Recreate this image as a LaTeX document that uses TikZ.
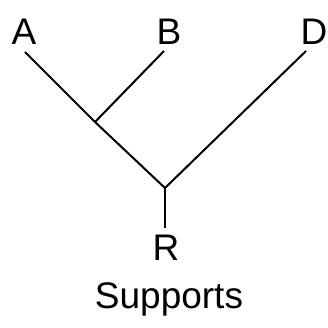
\documentclass[tikz,border=0pt]{standalone}
\usepackage{fontspec}
\setmainfont{Liberation Sans}
\usetikzlibrary{positioning}

\begin{document}
\begin{tikzpicture}[
  x=1pt, y=-1pt,
  every node/.style = {anchor=base, inner sep=0pt,
    font=\fontsize{37}{40}\selectfont},
  branch/.style = {line width=2pt}]
  \useasboundingbox (0,0) rectangle (328,328);
  \node (A) at (24,45) {A};
  \node (B) at (169,45) {B};
  \node (D) at (314,45) {D};
  \node (R) at (166,260) {R};
  \node (caption) at (169,308) {Supports};
  \coordinate (AB) at (95,122);
  \coordinate (root) at (165,188);
  \draw[branch] ([shift={(1,7)}]A.base) -- (AB);
  \draw[branch] ([shift={(-5,6)}]B.base) -- (AB);
  \draw[branch] (AB) -- (root);
  \draw[branch] ([shift={(-8,6)}]D.base) -- (root);
  \draw[branch] (root) -- ([shift={(-1,-6)}]R.north);
\end{tikzpicture}
\end{document}
